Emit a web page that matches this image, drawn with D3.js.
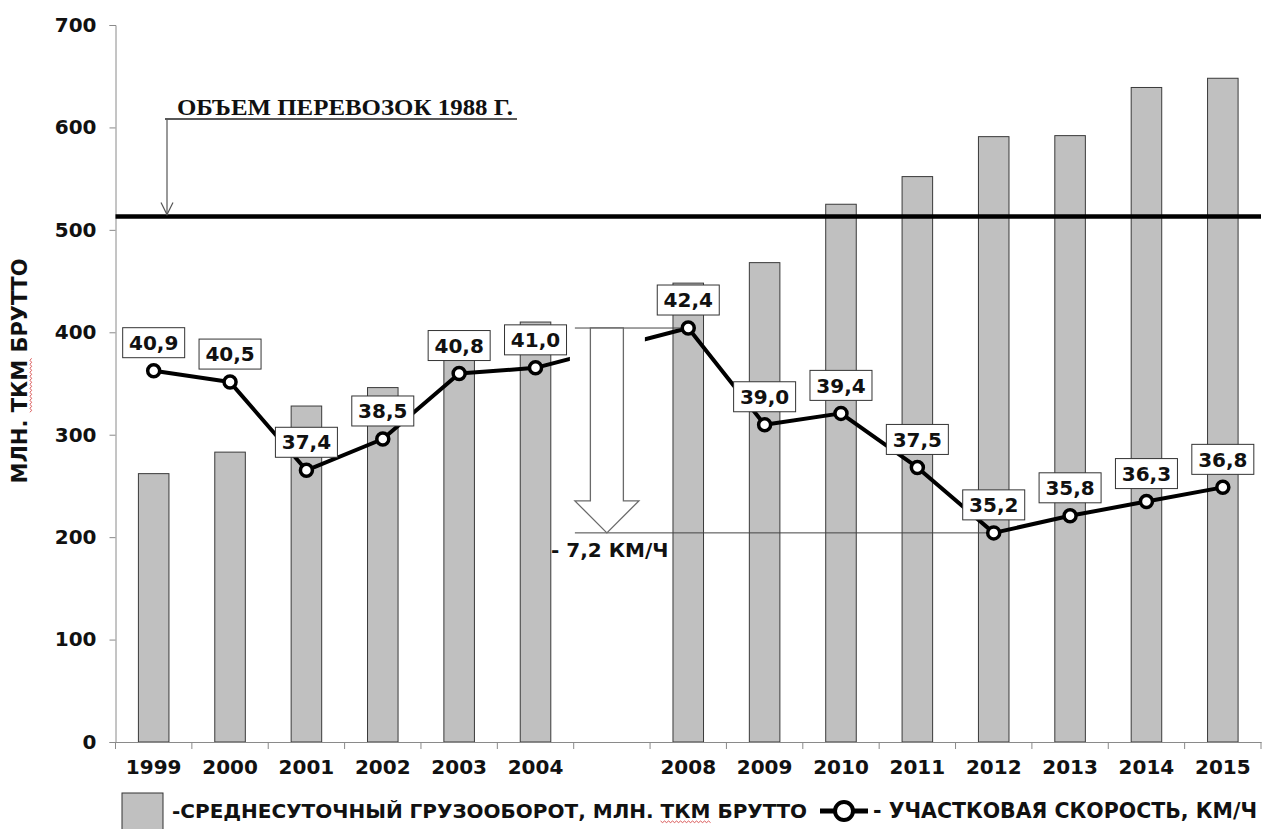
<!DOCTYPE html>
<html>
<head>
<meta charset="utf-8">
<script src="https://cdn.jsdelivr.net/npm/d3@7"></script>
<style>
  body { margin: 0; background: #fff; }
  svg { display: block; font-family: "DejaVu Sans", Verdana, sans-serif; }
</style>
</head>
<body>
<svg id="chart" width="1268" height="829"></svg>
<script>
// Years on the category axis; the empty entry is the skipped 2005–2007 slot
const categories = ["1999", "2000", "2001", "2002", "2003", "2004", "", "2008", "2009", "2010", "2011", "2012", "2013", "2014", "2015"];
// Average daily freight turnover, mln tkm gross
const freight = [262, 283, 328, 346, 385, 410, null, 448, 468, 525, 552, 591, 592, 639, 648];
// Section speed, km/h
const speed = [40.9, 40.5, 37.4, 38.5, 40.8, 41.0, null, 42.4, 39.0, 39.4, 37.5, 35.2, 35.8, 36.3, 36.8];
const yTicks = [0, 100, 200, 300, 400, 500, 600, 700];
const volume1988 = 513;
const speedDrop = { from: 42.4, to: 35.2, label: "- 7,2 КМ/Ч", fromYear: "2008", toYear: "2012" };

const svg = d3.select("#chart");
const W = 1268, H = 829;
const SANS = "DejaVu Sans, Verdana, sans-serif";
svg.append("rect").attr("width", W).attr("height", H).attr("fill", "#fff");

const plotLeft = 115.5, plotRight = 1261, plotTop = 25, plotBottom = 742;

const x = d3.scaleBand().domain(categories).range([plotLeft, plotRight]).paddingInner(0.6).paddingOuter(0.3);
const y = d3.scaleLinear().domain([0, 700]).range([plotBottom, plotTop]);
const ySpeed = d3.scaleLinear().domain([27.85, 53.05]).range([plotBottom, plotTop]);
const cx = d => x(d) + x.bandwidth() / 2;

const rows = categories.map((c, i) => ({ cat: c, freight: freight[i], speed: speed[i] }));
const fmt = v => d3.format(".1f")(v).replace(".", ",");

// Y axis
const yAxis = svg.append("g")
  .attr("transform", `translate(${plotLeft},0)`)
  .call(d3.axisLeft(y).tickValues(yTicks).tickSize(6).tickPadding(13));
yAxis.select(".domain").attr("stroke", "#8a8a8a");
yAxis.selectAll(".tick line").attr("stroke", "#8a8a8a");
yAxis.selectAll(".tick text")
  .attr("font-size", 20).attr("font-weight", "bold").attr("fill", "#111")
  .attr("font-family", SANS);

// Bars
svg.append("g").selectAll("rect")
  .data(rows.filter(r => r.freight != null))
  .join("rect")
  .attr("x", d => x(d.cat))
  .attr("y", d => y(d.freight))
  .attr("width", x.bandwidth())
  .attr("height", d => y(0) - y(d.freight))
  .attr("fill", "#c0c0c0")
  .attr("stroke", "#3a3a3a")
  .attr("stroke-width", 1);

// X axis
const xAxis = svg.append("g")
  .attr("transform", `translate(0,${plotBottom})`)
  .call(d3.axisBottom(x).tickSize(0).tickPadding(18));
xAxis.select(".domain").attr("stroke", "#8a8a8a");
xAxis.selectAll(".tick text")
  .attr("font-size", 20).attr("font-weight", "bold").attr("fill", "#111")
  .attr("font-family", SANS);
// tick marks between categories
const half = (x.step() - x.bandwidth()) / 2;
const bounds = categories.map(c => x(c) - half).concat([x(categories[categories.length - 1]) + x.bandwidth() + half]);
svg.append("g").selectAll("line").data(bounds).join("line")
  .attr("x1", d => d).attr("x2", d => d)
  .attr("y1", plotBottom).attr("y2", plotBottom + 7)
  .attr("stroke", "#8a8a8a");

// 1988 volume level
svg.append("line")
  .attr("x1", plotLeft).attr("x2", plotRight)
  .attr("y1", y(volume1988)).attr("y2", y(volume1988))
  .attr("stroke", "#000").attr("stroke-width", 4.5);

// 1988 annotation
const annX = 167, annY = 119;
svg.append("text")
  .attr("x", 177).attr("y", annY - 4)
  .style("font-family", "'Liberation Serif', 'Times New Roman', serif")
  .attr("font-weight", "bold").attr("font-size", 23)
  .attr("textLength", 336).attr("lengthAdjust", "spacingAndGlyphs")
  .attr("fill", "#111")
  .text("ОБЪЕМ ПЕРЕВОЗОК 1988 Г.");
svg.append("line").attr("x1", 165).attr("x2", 517).attr("y1", annY).attr("y2", annY)
  .attr("stroke", "#222").attr("stroke-width", 1.5);
svg.append("line").attr("x1", annX).attr("x2", annX).attr("y1", annY).attr("y2", y(volume1988) - 2)
  .attr("stroke", "#555").attr("stroke-width", 1.2);
svg.append("path")
  .attr("d", `M${annX - 6},${y(volume1988) - 14} L${annX},${y(volume1988) - 2} L${annX + 6},${y(volume1988) - 14}`)
  .attr("fill", "none").attr("stroke", "#555").attr("stroke-width", 1.2);

// Speed line (the stretch across the empty slot is hidden)
const gapC = cx("");
const clipId = "gapclip";
const clip = svg.append("clipPath").attr("id", clipId);
clip.append("rect").attr("x", 0).attr("y", 0).attr("width", gapC - 42).attr("height", H);
clip.append("rect").attr("x", gapC + 33).attr("y", 0).attr("width", W).attr("height", H);

const speedRows = rows.filter(r => r.speed != null);
const line = d3.line().x(d => cx(d.cat)).y(d => ySpeed(d.speed));
svg.append("path")
  .datum(speedRows)
  .attr("clip-path", `url(#${clipId})`)
  .attr("d", line)
  .attr("fill", "none").attr("stroke", "#000").attr("stroke-width", 4)
  .attr("stroke-linejoin", "round");

// Speed drop marker: guide lines, hollow arrow and caption
const yFrom = ySpeed(speedDrop.from), yTo = ySpeed(speedDrop.to);
const arrowC = gapC - 5;
svg.append("line").attr("x1", arrowC - 32).attr("x2", cx(speedDrop.fromYear))
  .attr("y1", yFrom).attr("y2", yFrom).attr("stroke", "#444").attr("stroke-width", 1);
svg.append("line").attr("x1", arrowC - 32).attr("x2", cx(speedDrop.toYear))
  .attr("y1", yTo).attr("y2", yTo).attr("stroke", "#444").attr("stroke-width", 1);
const headTop = yTo - 32;
svg.append("path")
  .attr("d", `M${arrowC - 16.5},${yFrom} L${arrowC + 16.5},${yFrom} L${arrowC + 16.5},${headTop} L${arrowC + 32},${headTop} L${arrowC},${yTo} L${arrowC - 32},${headTop} L${arrowC - 16.5},${headTop} Z`)
  .attr("fill", "#fff").attr("stroke", "#6a6a6a").attr("stroke-width", 1.3);
svg.append("text")
  .attr("x", 551).attr("y", yTo + 24)
  .attr("font-size", 20).attr("font-weight", "bold").attr("fill", "#111")
  .text(speedDrop.label);

// Speed points
svg.append("g").selectAll("circle").data(speedRows).join("circle")
  .attr("cx", d => cx(d.cat)).attr("cy", d => ySpeed(d.speed))
  .attr("r", 6).attr("fill", "#fff").attr("stroke", "#000").attr("stroke-width", 3.5);

// Value labels
const lab = svg.append("g").selectAll("g").data(speedRows).join("g")
  .attr("transform", d => `translate(${cx(d.cat)},${ySpeed(d.speed) - 28})`);
lab.append("rect").attr("x", -31).attr("y", -15).attr("width", 62).attr("height", 30)
  .attr("fill", "#fff").attr("stroke", "#333").attr("stroke-width", 1);
lab.append("text").attr("text-anchor", "middle").attr("dy", "0.36em")
  .attr("font-size", 20).attr("font-weight", "bold").attr("fill", "#111")
  .text(d => fmt(d.speed));

// Y axis title
const titlePos = "translate(27,371) rotate(-90)";
const yTitle = svg.append("text")
  .attr("transform", titlePos)
  .attr("text-anchor", "middle")
  .attr("font-size", 21).attr("font-weight", "bold").attr("fill", "#111");
yTitle.append("tspan").text("МЛН. ");
const yTkm = yTitle.append("tspan").text("ТКМ");
yTitle.append("tspan").text(" БРУТТО");

// Legend
svg.append("rect").attr("x", 122).attr("y", 793).attr("width", 41).attr("height", 45)
  .attr("fill", "#c0c0c0").attr("stroke", "#333").attr("stroke-width", 1);
const leg1 = svg.append("text").attr("x", 172).attr("y", 818)
  .attr("font-size", 20).attr("font-weight", "bold").attr("fill", "#111");
leg1.append("tspan").text("-СРЕДНЕСУТОЧНЫЙ ГРУЗООБОРОТ, МЛН. ");
const legTkm = leg1.append("tspan").text("ТКМ");
leg1.append("tspan").text(" БРУТТО");

svg.append("line").attr("x1", 820).attr("x2", 868).attr("y1", 811).attr("y2", 811)
  .attr("stroke", "#000").attr("stroke-width", 5);
svg.append("circle").attr("cx", 844).attr("cy", 811).attr("r", 9)
  .attr("fill", "#fff").attr("stroke", "#000").attr("stroke-width", 4);
svg.append("text").attr("x", 873).attr("y", 818)
  .attr("font-size", 20.5).attr("font-weight", "bold").attr("fill", "#111")
  .text("- УЧАСТКОВАЯ СКОРОСТЬ, КМ/Ч");

// Spell-check squiggles under "ТКМ"
function squiggle(x0, x1, yy) {
  let d = `M${x0},${yy}`;
  for (let xx = x0, k = 0; xx < x1; xx += 2, k++) d += ` L${xx + 2},${yy + (k % 2 ? 0 : 1.6)}`;
  return d;
}
const lb = legTkm.node().getBBox();
svg.append("path").attr("d", squiggle(lb.x, lb.x + lb.width, lb.y + lb.height - 2))
  .attr("fill", "none").attr("stroke", "#d03030").attr("stroke-width", 0.8);
const tb = yTkm.node().getBBox();
svg.append("path")
  .attr("transform", titlePos)
  .attr("d", squiggle(tb.x, tb.x + tb.width, tb.y + tb.height - 2))
  .attr("fill", "none").attr("stroke", "#d03030").attr("stroke-width", 0.8);
</script>
</body>
</html>
